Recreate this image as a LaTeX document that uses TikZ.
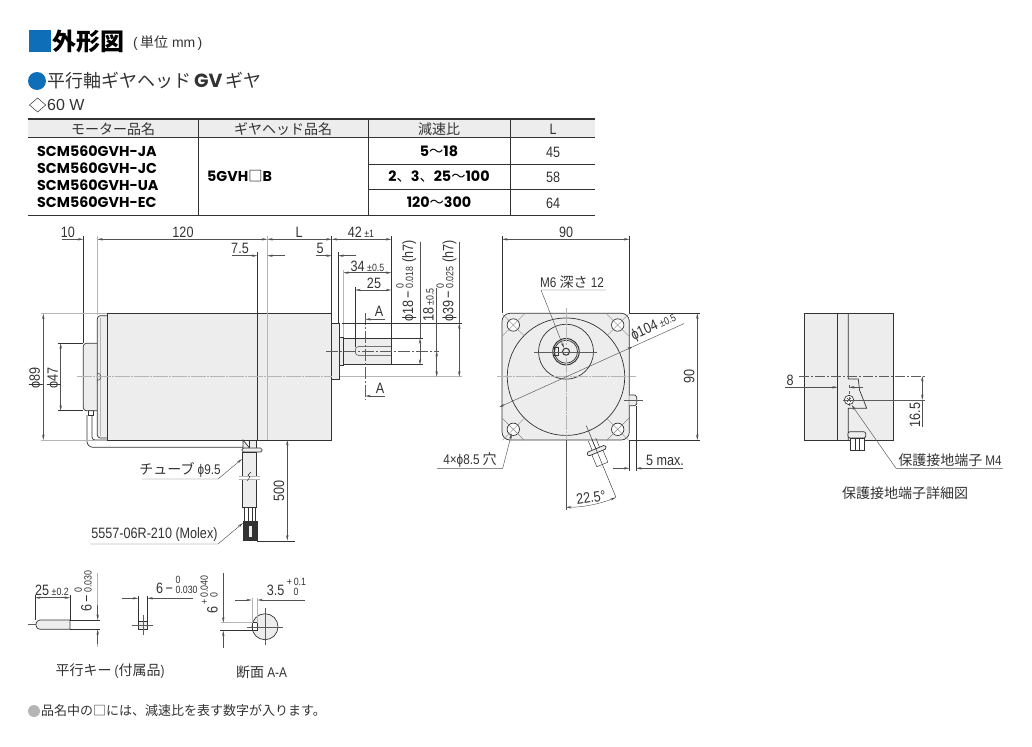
\documentclass[tikz,border=0pt]{standalone}
\usepackage{fontspec}
\usepackage{xcolor}
\usetikzlibrary{arrows.meta}
\setmainfont{Liberation Sans}
\newfontfamily\dimfont[FakeStretch=0.84]{Liberation Sans}
\newfontfamily\jpfont{Noto Sans CJK JP}
\newfontfamily\jpheavy{Noto Sans CJK JP Black}
\newfontfamily\tblfont{Poppins}
\newcommand{\tolsize}{\fontsize{10.5}{10.5}\selectfont}
\newcommand{\tolstack}[2]{{\tolsize\renewcommand{\arraystretch}{0.72}\begin{tabular}[b]{@{}l@{}}#1\\#2\end{tabular}}}
\definecolor{motorblue}{HTML}{0E6EB8}
\definecolor{bodygrey}{HTML}{EDEDED}
\definecolor{inkdark}{HTML}{333333}
\definecolor{extgrey}{HTML}{B5B5B5}
\tikzset{
  outline/.style={draw=inkdark, line width=0.7pt},
  partfill/.style={outline, fill=bodygrey},
  thinline/.style={draw=inkdark, line width=0.45pt},
  dimline/.style={draw=inkdark!85, line width=0.45pt},
  extgreyline/.style={draw=extgrey, line width=0.9pt},
  greycentre/.style={draw=extgrey, line width=0.9pt, dash pattern=on 15pt off 1pt on 2pt off 1pt},
  centerline/.style={draw=inkdark!80, line width=0.4pt},
  dimtext/.style={font=\dimfont\fontsize{15}{17}\selectfont, inner sep=0pt, text=inkdark},
  jptext/.style={font=\jpfont\fontsize{14}{16}\selectfont, inner sep=0pt, text=inkdark},
  tbltext/.style={font=\tblfont\bfseries\fontsize{14.3}{16}\selectfont, inner sep=0pt, text=black},
  >={Stealth[length=5.5pt,width=2.4pt]}
}
\begin{document}
\begin{tikzpicture}[x=1pt,y=-1pt]
  \useasboundingbox (0,0) rectangle (1032,746);

  % Headings
  \fill[motorblue] (29,30) rectangle (51,52);
  \node[anchor=west, inner sep=0pt, font=\jpheavy\fontsize{24}{26}\selectfont] (title) at (52,41) {外形図};
  \node[anchor=west, inner sep=0pt, font=\fontsize{14}{15}\selectfont, text=inkdark] (unit) at (133,43.5) {(\,{\jpfont 単位} mm\,)};
  \fill[motorblue] (37,81) circle[radius=9];
  \node[anchor=west, inner sep=0pt, font=\jpfont\fontsize{18}{22}\selectfont, text=inkdark] (subtitle) at (47,81) {平行軸ギヤヘッド\,{\tblfont\bfseries\fontsize{19}{22}\selectfont GV}\,ギヤ};
  \draw[inkdark, line width=0.5pt] (29.5,105) -- (37.6,98) -- (45.7,105) -- (37.6,112) -- cycle;
  \node[anchor=west, inner sep=0pt, font=\fontsize{16}{18}\selectfont, text=inkdark] (power) at (47,105) {60 W};

  % Table
  \fill[bodygrey] (28,119) rectangle (595,138);
  \draw[inkdark, line width=1.2pt] (28,119) -- (595,119);
  \draw[inkdark, line width=1pt] (28,138) -- (595,138);
  \draw[inkdark, line width=1.2pt] (28,215.5) -- (595,215.5);
  \foreach \xv in {198,368,510} \draw[inkdark, line width=0.5pt] (\xv,119) -- (\xv,215.5);
  \foreach \yv in {164,189.5} \draw[inkdark, line width=0.5pt] (368,\yv) -- (595,\yv);
  \node[jptext] (head1) at (113,129) {モーター品名};
  \node[jptext] (head2) at (283,129) {ギヤヘッド品名};
  \node[jptext] (head3) at (439,129) {減速比};
  \node[dimtext] (head4) at (553,129) {L};
  \node[tbltext, anchor=west] (m1) at (37,151) {SCM560GVH-JA};
  \node[tbltext, anchor=west] (m2) at (37,168) {SCM560GVH-JC};
  \node[tbltext, anchor=west] (m3) at (37,185) {SCM560GVH-UA};
  \node[tbltext, anchor=west] (m4) at (37,202) {SCM560GVH-EC};
  \node[tbltext, anchor=west] (gh) at (207,176) {5GVH{\jpfont\mdseries □}B};
  \node[tbltext] (r1) at (439,151) {5{\jpfont\mdseries ～}18};
  \node[tbltext] (r2) at (439,177) {2{\jpfont\mdseries 、}3{\jpfont\mdseries 、}25{\jpfont\mdseries ～}100};
  \node[tbltext] (r3) at (439,202) {120{\jpfont\mdseries ～}300};
  \node[dimtext] (l1) at (553,152) {45};
  \node[dimtext] (l2) at (553,177) {58};
  \node[dimtext] (l3) at (553,203) {64};

  % Side view: cable behind the body
  \draw[outline, rounded corners=6pt] (87,415) -- (87,447.3) -- (244,447.3);
  \draw[outline, rounded corners=3pt] (92,415) -- (92,440) -- (244,440);
  \draw[thinline] (88,410.7) rectangle (93.5,415);

  % Side view: motor
  \draw[partfill, rounded corners=3pt] (97.3,343.3) -- (83.3,343.3) -- (83.3,410.7) -- (97.3,410.7);
  \draw[partfill, rounded corners=3pt] (107.7,315.7) -- (97.3,315.7) -- (97.3,438) -- (107.7,438);
  \draw[extgrey, line width=0.8pt] (100,318) -- (100,436);
  \draw[thinline] (97.3,373) arc[start angle=-90, end angle=90, radius=3.7];
  \draw[partfill] (107.7,313.7) rectangle (257.3,440);
  \draw[partfill] (257.3,313.7) rectangle (331.7,440);
  \draw[extgreyline] (267.3,236) -- (267.3,440);
  \draw[partfill] (331.7,323.3) rectangle (339,379.3);
  \draw[partfill] (339,337.3) rectangle (343.3,365.3);
  \draw[partfill] (343.3,338.3) rectangle (391.3,364.7);
  \draw[thinline, rounded corners=3pt] (391.3,346.7) -- (355.3,346.7) -- (355.3,355.3) -- (391.3,355.3);

  % Side view: centre lines
  \draw[greycentre] (77,376.7) -- (331.7,376.7);
  \draw[extgreyline] (340,376.7) -- (462,376.7);
  \draw[centerline, dash pattern=on 12pt off 2pt on 2pt off 2pt] (326,351) -- (439,351);
  \draw[centerline, dash pattern=on 12pt off 2pt on 2pt off 2pt] (365.3,313) -- (365.3,400);

  % Side view: tube and connector
  \draw[partfill] (243,440) -- (249,447.3) -- (249,452) -- (243,452) -- cycle;
  \draw[partfill] (249,440) rectangle (256,452);
  \draw[partfill, rounded corners=1.5pt] (242,448) rectangle (262,452);
  \draw[partfill] (242,452) rectangle (256,507);
  \fill[white] (240,476) rectangle (260,479);
  \draw[extgrey, line width=0.7pt] (239,476) -- (260,476) (239,479) -- (260,479);
  \draw[thinline] (247,481) -- (250,477) -- (248,475) -- (251,472);
  \foreach \xv in {244,248,252,255} \draw[thinline] (\xv,507) -- (\xv,521.7);
  \draw[outline, fill=inkdark] (243,521.7) rectangle (257,540.6);
  \fill[bodygrey] (248.5,526) rectangle (252,537);

  % Side view: dimensions along the top
  \node[dimtext] (d10) at (68,232) {10};
  \node[dimtext] (d120) at (183,232) {120};
  \node[dimtext] (d75) at (240,248.5) {7.5};
  \node[dimtext] (dL) at (299,232) {L};
  \node[dimtext] (d5) at (320,248.5) {5};
  \node[dimtext] (d42) at (361,232) {42\,{\tolsize ±1}};
  \node[dimtext] (d34) at (367.5,266) {34\,{\tolsize ±0.5}};
  \node[dimtext] (d25) at (374,283) {25};
  \node[dimtext] (dA1) at (379,311.5) {A};
  \node[dimtext] (dA2) at (380,388.5) {A};
  \draw[dimline,->] (61.7,239.3) -- (83.3,239.3);
  \draw[dimline,<->] (97.3,239.3) -- (267.3,239.3);
  \draw[dimline,<->] (267.3,239.3) -- (331.7,239.3);
  \draw[dimline,<->] (331.7,239.3) -- (391.3,239.3);
  \draw[dimline,->] (231.7,255.7) -- (257.3,255.7);
  \draw[dimline,->] (285,255.7) -- (267.3,255.7);
  \draw[dimline,->] (315.7,255.7) -- (331.7,255.7);
  \draw[dimline,->] (356,255.7) -- (338.3,255.7);
  \draw[dimline,<->] (343.3,272.7) -- (391.3,272.7);
  \draw[dimline,<->] (355.3,290) -- (391.3,290);
  \draw[dimline,->] (385,319.3) -- (365.3,319.3);
  \draw[dimline,->] (385,396) -- (365.3,396);
  \draw[thinline] (83.3,236) -- (83.3,343.3);
  \draw[extgreyline] (97.3,236) -- (97.3,315);
  \draw[thinline] (257.3,252) -- (257.3,313.7);
  \draw[thinline] (331.7,236) -- (331.7,313.7);
  \draw[thinline] (338.3,252) -- (338.3,323.3);
  \draw[thinline] (391.3,236) -- (391.3,338.3);
  \draw[extgreyline] (343.3,270) -- (343.3,337.3);
  \draw[thinline] (355.3,287) -- (355.3,347);

  % Side view: dimensions on the right
  \draw[thinline] (341.7,323.3) -- (462,323.3);
  \draw[thinline] (391.3,338.3) -- (423,338.3);
  \draw[thinline] (391.3,364.7) -- (423,364.7);
  \draw[dimline] (420,241.7) -- (420,338.3);
  \draw[dimline,<->] (420,338.3) -- (420,364.7);
  \draw[dimline] (436.7,288) -- (436.7,351);
  \draw[dimline,<->] (436.7,351) -- (436.7,376.7);
  \draw[dimline] (459.3,241.7) -- (459.3,323.3);
  \draw[dimline,<->] (459.3,323.3) -- (459.3,376.7);
  \node[dimtext, rotate=90, anchor=south west] (dphi18) at (416.5,322) {ϕ18\,−\,\tolstack{0}{0.018} (h7)};
  \node[dimtext, rotate=90, anchor=south west] (d18) at (434,322) {18\,{\tolsize ±0.5}};
  \node[dimtext, rotate=90, anchor=south west] (dphi39) at (456.8,322) {ϕ39\,−\,\tolstack{0}{0.025} (h7)};

  % Side view: dimensions on the left
  \draw[extgreyline] (41,313.7) -- (107,313.7);
  \draw[extgreyline] (41,440) -- (107,440);
  \draw[thinline] (58,343.3) -- (83.3,343.3);
  \draw[thinline] (58,410.7) -- (83.3,410.7);
  \draw[dimline,<->] (43.3,313.7) -- (43.3,440);
  \draw[dimline,<->] (60.7,343.3) -- (60.7,410.7);
  \node[dimtext, rotate=90] (dphi89) at (36,378) {ϕ89};
  \node[dimtext, rotate=90] (dphi47) at (54,378) {ϕ47};

  % Side view: cable labels
  \draw[thinline] (257,541) -- (295,541);
  \draw[thinline] (332,440) -- (295,440);
  \draw[dimline,<->] (287.3,440) -- (287.3,540.6);
  \node[dimtext, rotate=90] (d500) at (279,490.7) {500};
  \node[jptext, anchor=south, yshift=1pt] (tube) at (180,479) {チューブ {\dimfont ϕ9.5}};
  \node[dimtext, anchor=south, yshift=2.5pt] (molex) at (154.5,544) {5557-06R-210 (Molex)};
  \coordinate (tubeend) at (242,459);
  \coordinate (molexend) at (243,523);
  \draw[dimline,->] (142,479) -- (218,479) -- (tubeend);
  \draw[dimline,->] (90,544) -- (218,544) -- (molexend);

  % Front view
  \draw[partfill, rounded corners=8pt] (502,313.3) rectangle (629.3,440);
  \draw[outline] (566,376.7) circle[radius=58.7];
  \draw[outline] (566,351.7) circle[radius=27.5];
  \draw[outline, line width=1pt] (566,351.7) circle[radius=13.2];
  \draw[outline] (566,351.7) circle[radius=11.5];
  \draw[outline, line width=1pt] (566,351.7) circle[radius=3.5];
  \draw[thinline] (554,347.7) rectangle (558.3,355);
  \foreach \hx/\hy in {513.3/325,617.7/325,513.3/429.3,617.7/429.3} {
    \draw[outline, fill=white] (\hx,\hy) circle[radius=6.2];
    \draw[draw=inkdark!60, line width=0.4pt] (\hx-11,\hy-11) -- (\hx+11,\hy+11) (\hx-11,\hy+11) -- (\hx+11,\hy-11);
  }
  \draw[greycentre] (497,376.7) -- (636,376.7);
  \draw[greycentre] (566,307.7) -- (566,345);
  \draw[greycentre] (566,358) -- (566,440);
  \draw[dimline] (566,440) -- (566,510);
  \draw[centerline] (534,351.7) -- (597,351.7);

  % Front view: cable at an angle
  \begin{scope}[shift={(566,376.7)},rotate=22.5]
    \foreach \xv in {-4,0,4} \draw[thinline] (\xv,68) -- (\xv,78);
    \draw[thinline, fill=white] (-6,81) rectangle (6,95);
    \draw[partfill, rounded corners=1.5pt] (-10,78) rectangle (10,82);
    \draw[thinline] (0,53) -- (0,130.6);
  \end{scope}
  \draw[partfill] (629.3,395) -- (635,395) -- (636.7,397) -- (636.7,404) -- (635,405.7) -- (629.3,405.7);
  \draw[centerline] (624,400) -- (642.7,400);

  % Front view: dimensions
  \draw[dimline,<->] (502,239.3) -- (629.3,239.3);
  \draw[thinline] (502,236) -- (502,313.3) (629.3,236) -- (629.3,313.3);
  \node[dimtext] (d90top) at (566,232) {90};
  \draw[dimline,<->] (697.3,313.3) -- (697.3,440);
  \draw[thinline] (629.3,313.3) -- (700,313.3) (629.3,440) -- (700,440);
  \node[dimtext, rotate=90] (d90right) at (689.3,376.7) {90};
  \coordinate (phistart) at (499.2,407.1);
  \coordinate (phimid) at (633,346.6);
  \draw[dimline,<->] (phistart) -- (phimid);
  \draw[dimline] (phimid) -- (684,323.6);
  \node[dimtext, rotate=24.5, anchor=south, inner sep=1pt] (dphi104) at (657,334.5) {ϕ104\,{\tolsize ±0.5}};
  \node[jptext, anchor=south, yshift=1pt] (m6) at (572,290) {{\dimfont M6} 深さ {\dimfont 12}};
  \coordinate (m6end) at (564,348);
  \draw[dimline,->] (606,290) -- (541,290) -- (m6end);
  \node[jptext, anchor=south, yshift=1pt] (holes) at (470,468.3) {{\dimfont 4×ϕ8.5} 穴};
  \coordinate (holeend) at (511.7,433.3);
  \draw[dimline,->] (437,468.3) -- (502.7,468.3) -- (holeend);
  \draw[thinline] (629.3,440) -- (629.3,471) (636,406) -- (636,471);
  \draw[dimline,->] (613,468.3) -- (629.3,468.3);
  \draw[dimline,->] (683.3,468.3) -- (636,468.3);
  \node[dimtext, anchor=south, yshift=2.5pt] (d5max) at (665,468.3) {5 max.};
  \draw[dimline,<->] (566,507.3) arc[start angle=90, end angle=67.5, radius=130.6];
  \node[dimtext, rotate=8] (d225) at (591,497.5) {22.5°};

  % Earth terminal detail
  \draw[partfill] (804.3,313.3) rectangle (893.3,440.7);
  \draw[outline] (837.7,313.3) -- (837.7,440.7);
  \draw[outline, fill=bodygrey] (848.3,313.3) -- (848.3,379) -- (858.3,379) -- (859.5,390) -- (866.7,408.3) -- (848.3,408.3) -- (848.3,440.7);
  \draw[outline, fill=white] (849,400) circle[radius=4.7];
  \draw[thinline] (847,398) -- (851,402) (847,402) -- (851,398);
  \draw[centerline, dash pattern=on 10pt off 2pt on 2pt off 2pt] (799.3,376) -- (926,376);
  \draw[centerline] (842.7,400) -- (925,400);
  \draw[centerline, dashed] (849,385) -- (849,408);
  \draw[partfill, rounded corners=2pt] (848,438) -- (848,431.7) -- (865.7,431.7) -- (865.7,438) -- cycle;
  \draw[thinline, fill=white] (850,438) rectangle (864,450);
  \foreach \xv in {855,859} \draw[thinline] (\xv,438) -- (\xv,450);
  \draw[dimline,->] (785,387.3) -- (837.7,387.3);
  \draw[dimline,->] (863,387.3) -- (849,387.3);
  \node[dimtext] (d8) at (790,380) {8};
  \draw[dimline,<->] (922.3,376) -- (922.3,400);
  \draw[dimline] (922.3,400) -- (922.3,426.7);
  \node[dimtext, rotate=90] (d165) at (915,415) {16.5};
  \coordinate (earthend) at (851.7,405);
  \draw[dimline,->] (1003,468.3) -- (896,468.3) -- (earthend);
  \node[jptext, anchor=south, yshift=1pt] (earth) at (950,468.3) {保護接地端子 {\dimfont M4}};
  \node[jptext] (earthcap) at (905,493.5) {保護接地端子詳細図};

  % Parallel key
  \draw[partfill] (70,620) [rounded corners=4pt] -- (36,620) -- (36,629.3) [sharp corners] -- (70,629.3) -- cycle;
  \draw[centerline] (28,624.6) -- (36,624.6);
  \draw[thinline] (70,620) -- (100,620) (70,629.3) -- (100,629.3);
  \draw[thinline] (35,595) -- (35,620) (70,595) -- (70,620);
  \draw[dimline,<->] (35,597.7) -- (70,597.7);
  \node[dimtext] (key25) at (52,590.5) {25\,{\tolsize ±0.2}};
  \draw[extgrey, line width=0.8pt] (97.7,573) -- (97.7,612);
  \draw[extgrey, line width=0.8pt] (97.7,637) -- (97.7,646.7);
  \draw[dimline,->] (97.7,605) -- (97.7,620);
  \draw[dimline,->] (97.7,644) -- (97.7,629.3);
  \node[dimtext, rotate=90, anchor=south west] (key6) at (94,612) {6\,−\,\tolstack{0}{0.030}};

  % Key end view
  \draw[partfill] (138.3,621) rectangle (147.3,629.3);
  \draw[centerline] (131.7,625) -- (153,625) (143,615) -- (143,635);
  \draw[thinline] (138.3,596) -- (138.3,621) (147.3,596) -- (147.3,621);
  \draw[dimline,->] (121.7,598.3) -- (138.3,598.3);
  \draw[dimline,->] (193,598.3) -- (147.3,598.3);
  \node[dimtext, anchor=south west] (keyw) at (156,596) {6\,−\,\tolstack{0}{0.030}};

  % Section A-A
  \draw[partfill] (265,626.7) circle[radius=13];
  \draw[partfill, fill=white] (252.3,622.7) rectangle (257.7,630.7);
  \draw[centerline] (246.7,626.7) -- (283,626.7) (265,608) -- (265,645);
  \draw[extgreyline] (252.3,598) -- (252.3,622.7);
  \draw[extgreyline] (257.5,598) -- (257.5,622.7);
  \draw[dimline,->] (235,600) -- (251.7,600);
  \draw[dimline,->] (305,600) -- (257.5,600);
  \node[dimtext, anchor=south west] (sec35) at (266.7,598) {3.5\,\tolstack{+\,0.1}{\,\ \ 0}};
  \draw[extgreyline] (221,622.7) -- (252.3,622.7);
  \draw[thinline] (220,630.7) -- (252.3,630.7);
  \draw[dimline] (223.3,573) -- (223.3,605);
  \draw[dimline,->] (223.3,605) -- (223.3,622.7);
  \draw[dimline,->] (223.3,648) -- (223.3,630.7);
  \node[dimtext, rotate=90, anchor=south west] (sec6) at (220,614) {6\,\tolstack{+\,0.040}{\,\ \ 0}};

  % Captions and note
  \node[jptext] (keycap) at (110,671) {平行キー {\dimfont (}付属品{\dimfont )}};
  \node[jptext] (seccap) at (261.5,672.5) {断面 {\dimfont A-A}};
  \fill[extgrey] (34,711) circle[radius=6];
  \node[jptext, anchor=west, font=\jpfont\fontsize{13}{15}\selectfont] (note) at (41,711) {品名中の□には、減速比を表す数字が入ります。};
\end{tikzpicture}
\end{document}
